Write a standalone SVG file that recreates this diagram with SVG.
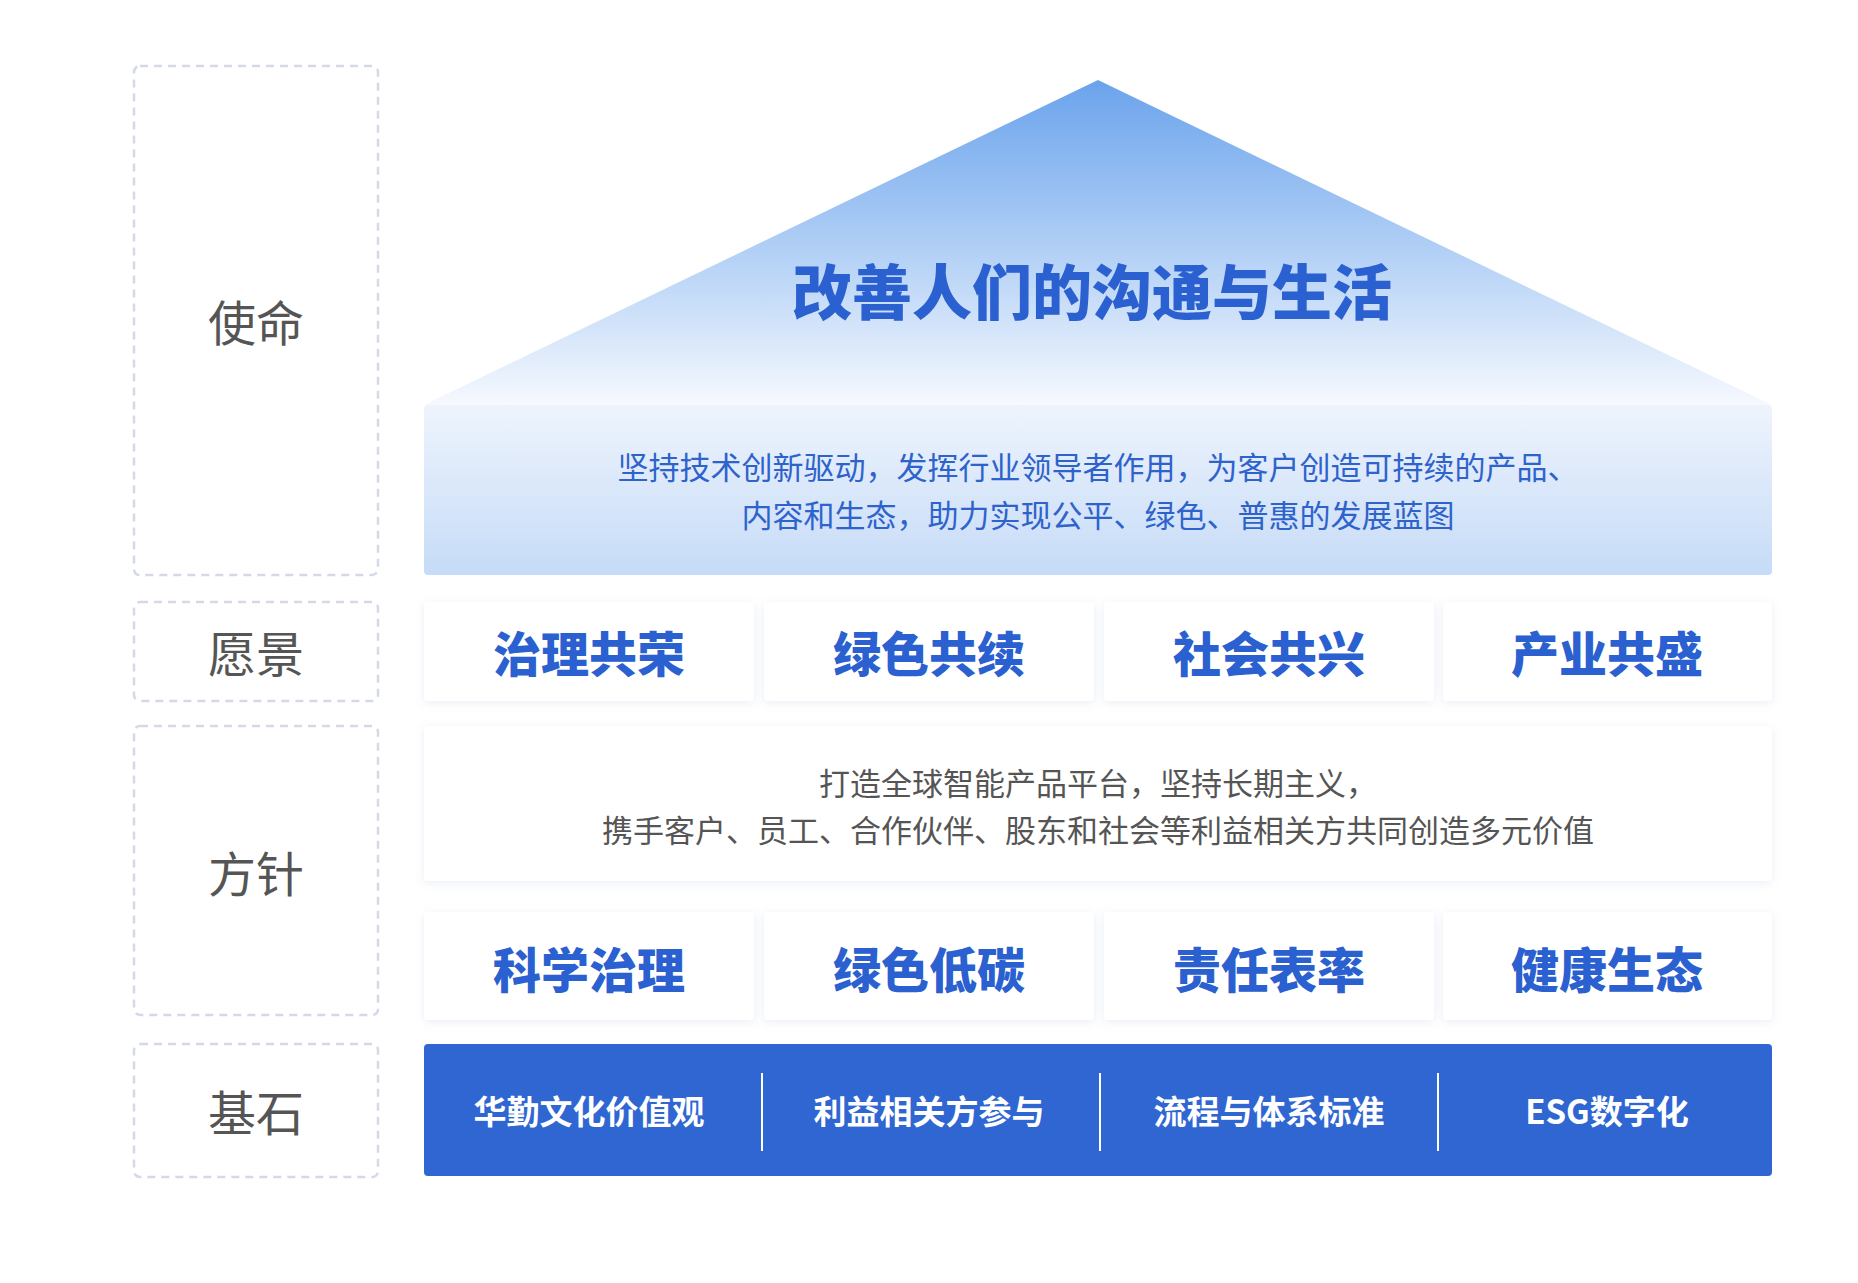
<svg xmlns="http://www.w3.org/2000/svg" width="1858" height="1283" viewBox="0 0 1858 1283">
<defs>
<linearGradient id="tri" x1="0" y1="0" x2="0" y2="1"><stop offset="0" stop-color="#6aa3ec"/><stop offset="0.6" stop-color="#bcd6f7"/><stop offset="1" stop-color="#f6f9fe"/></linearGradient>
<linearGradient id="band" x1="0" y1="0" x2="0" y2="1"><stop offset="0" stop-color="#eef4fd"/><stop offset="1" stop-color="#c6dbf7"/></linearGradient>
<filter id="sh" x="-5%" y="-20%" width="110%" height="140%"><feDropShadow dx="0" dy="2" stdDeviation="4" flood-color="#8aa0c8" flood-opacity="0.18"/></filter>
<style>
.lbl{fill:none;stroke:#d3d9e6;stroke-width:2.5;stroke-dasharray:8 6}
.lt{font-family:"Noto Sans CJK SC",sans-serif;font-size:48px;fill:#555;text-anchor:middle;dominant-baseline:central}
.card{fill:#fff;filter:url(#sh)}
.ct{font-family:"Noto Sans CJK SC",sans-serif;font-size:48px;font-weight:900;fill:#2a60cf;text-anchor:middle;dominant-baseline:central}
.bt{font-family:"Noto Sans CJK SC",sans-serif;font-size:33px;font-weight:700;fill:#fff;text-anchor:middle;dominant-baseline:central}
.mt{font-family:"Noto Sans CJK SC",sans-serif;font-size:31px;fill:#2e63cc;text-anchor:middle;dominant-baseline:central}
.pt{font-family:"Noto Sans CJK SC",sans-serif;font-size:31px;fill:#555;text-anchor:middle;dominant-baseline:central}
</style>
</defs>
<rect width="1858" height="1283" fill="#fff"/>
<g id="labels">
<rect class="lbl" x="134" y="66" width="244" height="509" rx="6"/><text class="lt" x="256" y="320">使命</text>
<rect class="lbl" x="134" y="602" width="244" height="99" rx="6"/><text class="lt" x="256" y="651">愿景</text>
<rect class="lbl" x="134" y="726" width="244" height="289" rx="6"/><text class="lt" x="256" y="871">方针</text>
<rect class="lbl" x="134" y="1044" width="244" height="133" rx="6"/><text class="lt" x="256" y="1110">基石</text>
</g>
<g id="mission">
<polygon points="1098,80 1772,405 424,405" fill="url(#tri)"/>
<text x="1092" y="288" font-family="'Noto Sans CJK SC',sans-serif" font-size="60" font-weight="900" fill="#2a60cf" text-anchor="middle" dominant-baseline="central">改善人们的沟通与生活</text>
<rect x="424" y="405" width="1348" height="170" rx="4" fill="url(#band)"/>
<text class="mt" x="1098" y="465">坚持技术创新驱动，发挥行业领导者作用，为客户创造可持续的产品、</text>
<text class="mt" x="1098" y="513">内容和生态，助力实现公平、绿色、普惠的发展蓝图</text>
</g>
<g id="vision">
<rect class="card" x="424" y="602" width="330" height="99" rx="4"/><text class="ct" x="589" y="651">治理共荣</text>
<rect class="card" x="764" y="602" width="330" height="99" rx="4"/><text class="ct" x="929" y="651">绿色共续</text>
<rect class="card" x="1104" y="602" width="330" height="99" rx="4"/><text class="ct" x="1269" y="651">社会共兴</text>
<rect class="card" x="1443" y="602" width="329" height="99" rx="4"/><text class="ct" x="1607" y="651">产业共盛</text>
</g>
<g id="policy">
<rect class="card" x="424" y="726" width="1348" height="155" rx="4"/>
<text class="pt" x="1098" y="781">打造全球智能产品平台，坚持长期主义，</text>
<text class="pt" x="1098" y="828">携手客户、员工、合作伙伴、股东和社会等利益相关方共同创造多元价值</text>
<rect class="card" x="424" y="912" width="330" height="108" rx="4"/><text class="ct" x="589" y="967">科学治理</text>
<rect class="card" x="764" y="912" width="330" height="108" rx="4"/><text class="ct" x="929" y="967">绿色低碳</text>
<rect class="card" x="1104" y="912" width="330" height="108" rx="4"/><text class="ct" x="1269" y="967">责任表率</text>
<rect class="card" x="1443" y="912" width="329" height="108" rx="4"/><text class="ct" x="1607" y="967">健康生态</text>
</g>
<g id="foundation">
<rect x="424" y="1044" width="1348" height="132" rx="4" fill="#2f66d2"/>
<text class="bt" x="589" y="1110">华勤文化价值观</text>
<text class="bt" x="929" y="1110">利益相关方参与</text>
<text class="bt" x="1269" y="1110">流程与体系标准</text>
<text class="bt" x="1607" y="1110">ESG数字化</text>
</g>
<g id="connectors" stroke="#fff" stroke-width="2">
<line x1="762" y1="1073" x2="762" y2="1151"/>
<line x1="1100" y1="1073" x2="1100" y2="1151"/>
<line x1="1438" y1="1073" x2="1438" y2="1151"/>
</g>
</svg>
